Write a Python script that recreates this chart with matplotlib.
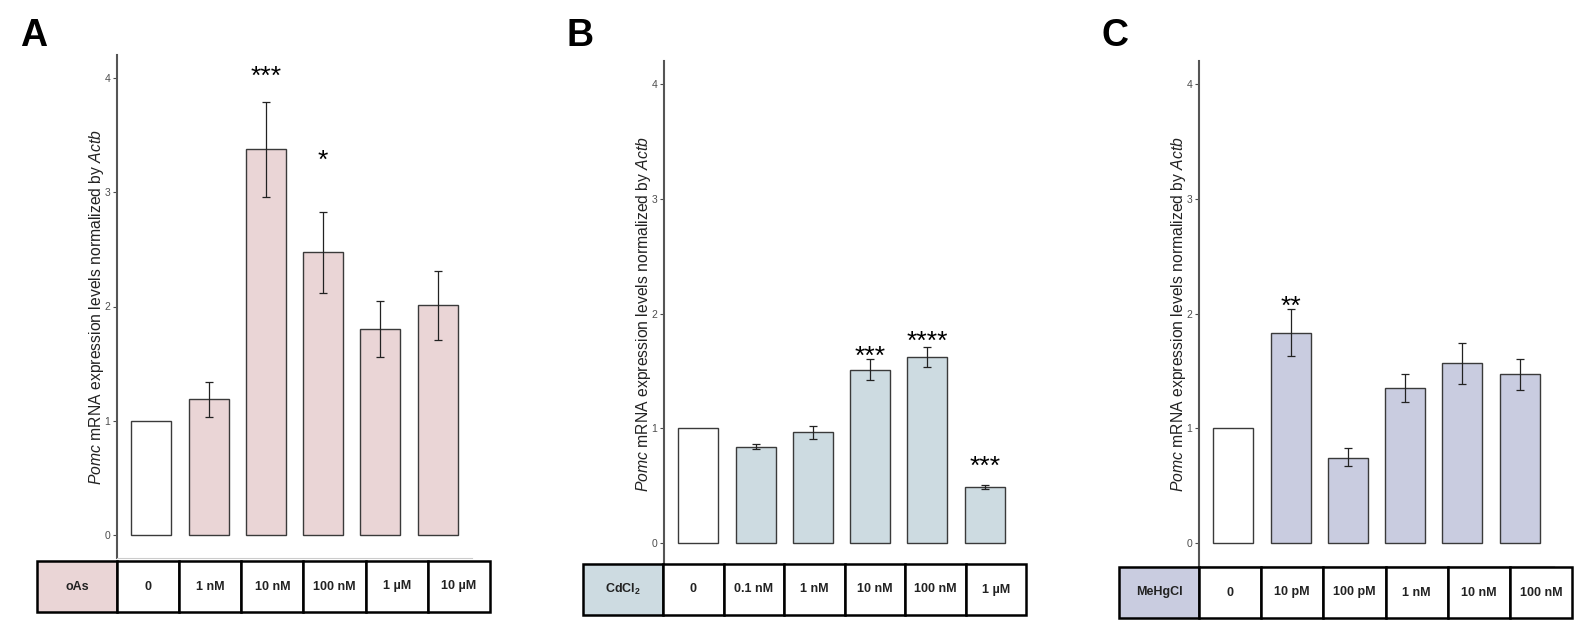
import matplotlib
matplotlib.use("Agg")
import matplotlib.pyplot as plt
from matplotlib.patches import Rectangle

plt.rcParams['font.family'] = ['Liberation Sans', 'DejaVu Sans']
plt.rcParams['mathtext.fontset'] = 'custom'
plt.rcParams['mathtext.rm'] = 'Liberation Sans'
plt.rcParams['mathtext.it'] = 'Liberation Sans:italic'
plt.rcParams['mathtext.bf'] = 'Liberation Sans:bold'

# ---- data ----
a_labels = ['0', '1 nM', '10 nM', '100 nM', '1 µM', '10 µM']
a_mean = [1.0, 1.19, 3.38, 2.48, 1.80, 2.01]
a_lo = [1.0, 1.03, 2.96, 2.12, 1.56, 1.71]
a_hi = [1.0, 1.34, 3.79, 2.83, 2.05, 2.31]
a_stars = ['', '', '***', '*', '', '']
a_star_y = [0, 0, 4.01, 3.27, 0, 0]

b_labels = ['0', '0.1 nM', '1 nM', '10 nM', '100 nM', '1 µM']
b_mean = [1.0, 0.84, 0.97, 1.51, 1.62, 0.49]
b_lo = [1.0, 0.82, 0.91, 1.42, 1.53, 0.47]
b_hi = [1.0, 0.86, 1.02, 1.60, 1.71, 0.51]
b_stars = ['', '', '', '***', '****', '***']
b_star_y = [0, 0, 0, 1.625, 1.756, 0.667]

c_labels = ['0', '10 pM', '100 pM', '1 nM', '10 nM', '100 nM']
c_mean = [1.0, 1.83, 0.745, 1.35, 1.565, 1.475]
c_lo = [1.0, 1.63, 0.67, 1.23, 1.39, 1.335]
c_hi = [1.0, 2.04, 0.825, 1.47, 1.74, 1.605]
c_stars = ['', '**', '', '', '', '']
c_star_y = [0, 2.06, 0, 0, 0, 0]

W, H = 1574, 621
fig = plt.figure(figsize=(W / 100, H / 100), dpi=100)


def px_axes(x0, y0, x1, y1):
    # pixel box (top-left origin) -> figure axes
    return fig.add_axes([x0 / W, 1 - y1 / H, (x1 - x0) / W, (y1 - y0) / H])


def panel(box, tbox, letter, lpos, treat, color, labels, mean, lo, hi, stars, star_y):
    ax = px_axes(*box)
    x = list(range(len(mean)))
    fills = ['white'] + [color] * (len(mean) - 1)
    ax.bar(x, mean, width=0.7, color=fills, edgecolor='#3a3a3a', linewidth=1.0, zorder=2)
    err = [[m - l for m, l in zip(mean, lo)], [h - m for m, h in zip(mean, hi)]]
    ax.errorbar(x[1:], mean[1:], yerr=[err[0][1:], err[1][1:]], fmt='none',
                ecolor='#222222', elinewidth=0.9, capsize=3, capthick=0.9, zorder=3)
    for xi, s, sy in zip(x, stars, star_y):
        if s:
            ax.text(xi, sy, s, ha='center', va='center', fontsize=19, color='black')
    ax.set_xlim(-0.6, len(mean) - 0.4)
    ax.set_ylim(-0.2, 4.2)
    ax.set_yticks([0, 1, 2, 3, 4])
    ax.set_xticks([])
    ax.tick_params(axis='y', labelsize=7.5, labelcolor='#4d4d4d', color='#4d4d4d',
                   length=3, width=0.8, pad=2)
    for sp in ['top', 'right']:
        ax.spines[sp].set_visible(False)
    ax.spines['left'].set_color('#555555')
    ax.spines['left'].set_linewidth(1.5)
    ax.spines['bottom'].set_color('#cccccc')
    ax.spines['bottom'].set_linewidth(0.8)
    ax.set_ylabel(r'$\it{Pomc}$ mRNA expression levels normalized by $\it{Actb}$',
                  fontsize=11.3, color='#222222', labelpad=-1)
    fig.text(lpos[0] / W, 1 - lpos[1] / H, letter, fontsize=27, fontweight='bold',
             ha='center', va='center')

    # treatment table below the axis
    tx = px_axes(*tbox)
    tw = tbox[2] - tbox[0]
    th = tbox[3] - tbox[1]
    tx.set_xlim(0, tw)
    tx.set_ylim(0, th)
    tx.axis('off')
    first = 80
    cw = (tw - first) / len(labels)
    tx.add_patch(Rectangle((0, 0), first, th, facecolor=color, edgecolor='black',
                           linewidth=1.8, clip_on=False))
    tx.text(first / 2, th / 2, treat, ha='center', va='center', fontsize=9,
            fontweight='bold', color='#222222')
    for i, lab in enumerate(labels):
        x0 = first + i * cw
        tx.add_patch(Rectangle((x0, 0), cw, th, facecolor='white', edgecolor='black',
                               linewidth=1.8, clip_on=False))
        tx.text(x0 + cw / 2, th / 2, lab, ha='center', va='center', fontsize=9,
                fontweight='bold', color='#222222')
    return ax


panel((117, 55, 472, 558), (37, 561, 490, 612), 'A', (34, 36), 'oAs', '#ead5d6',
      a_labels, a_mean, a_lo, a_hi, a_stars, a_star_y)
panel((664, 61, 1019, 566), (583, 564, 1026, 615), 'B', (580, 36), r'CdCl$_\mathbf{2}$',
      '#cddbe1', b_labels, b_mean, b_lo, b_hi, b_stars, b_star_y)
panel((1199, 61, 1554, 566), (1119, 567, 1572, 618), 'C', (1115, 36), 'MeHgCl', '#c9cce0',
      c_labels, c_mean, c_lo, c_hi, c_stars, c_star_y)

fig.savefig('out.png', dpi=100)
